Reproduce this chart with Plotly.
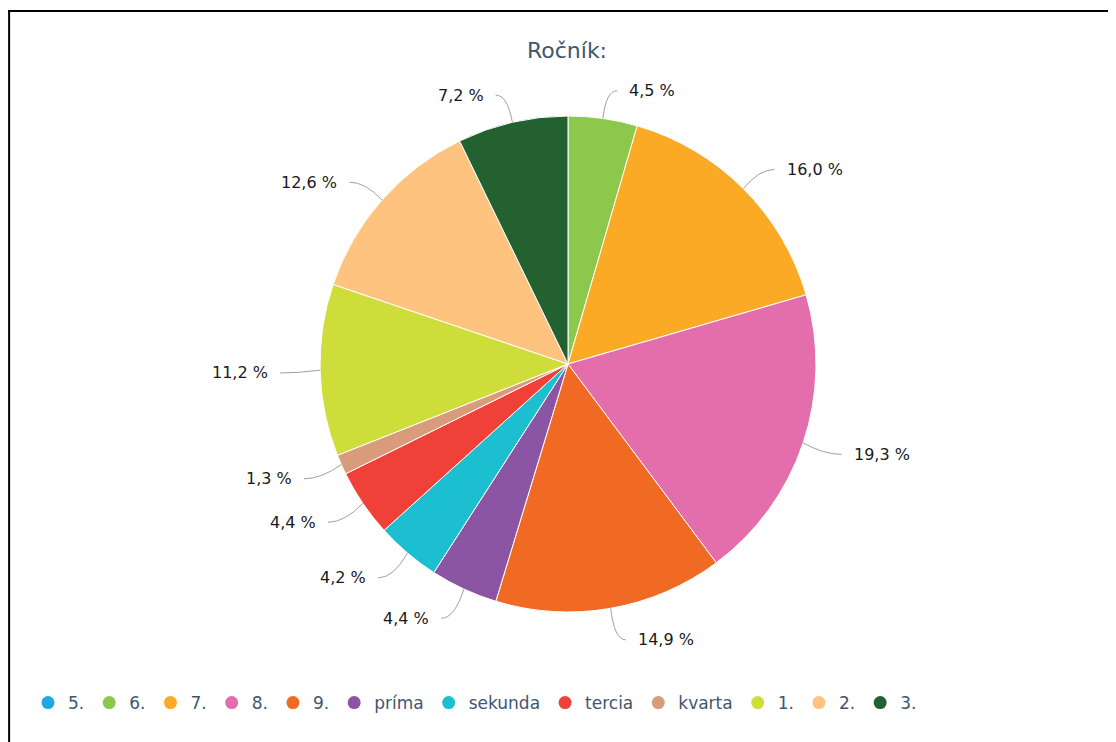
import math
import plotly.graph_objects as go

# --- data -------------------------------------------------------------
categories = ["5.", "6.", "7.", "8.", "9.", "príma", "sekunda", "tercia",
              "kvarta", "1.", "2.", "3."]
shares = [0.0, 4.5, 16.0, 19.3, 14.9, 4.4, 4.2, 4.4, 1.3, 11.2, 12.6, 7.2]
colors = ["#1fa9e1", "#8cc84b", "#fbaa26", "#e46eac", "#f06a24", "#8c55a3",
          "#1bbfd0", "#ef4138", "#d89b7b", "#cfdd3a", "#fec47f", "#236130"]
title = "Ročník:"

# --- geometry (page pixels; the html body adds an 8px margin) ----------
OFF = 8
W, H = 1116 - OFF, 742 - OFF
CX, CY, R = 568, 364, 248
DIST = 30          # label distance from pie edge

def px(x, y):
    return (x - OFF) / W, 1 - (y - OFF) / H

fig = go.Figure()
fig.add_trace(go.Pie(
    labels=categories, values=shares, sort=False, direction="clockwise",
    rotation=0, marker=dict(colors=colors, line=dict(color="white", width=1)),
    textinfo="none", hoverinfo="label+percent", showlegend=False,
    domain=dict(x=[px(CX - R, 0)[0], px(CX + R, 0)[0]],
                y=[px(0, CY + R)[1], px(0, CY - R)[1]]),
))

# legend entries with round markers
for cat, col in zip(categories, colors):
    fig.add_trace(go.Scatter(x=[None], y=[None], mode="markers", name=cat,
                             marker=dict(color=col, size=13, symbol="circle")))

# outside labels with curved connectors, placed from the slice angles
total = sum(shares)
annotations, shapes = [], []
cum = 0.0
for v in shares:
    if v <= 0:
        continue
    th = 2 * math.pi * (cum + v / 2) / total
    cum += v
    s, c = math.sin(th), -math.cos(th)
    ax, ay = CX + (R + DIST) * s, CY + (R + DIST) * c + 2
    side = 1 if s >= 0 else -1
    x0, y0 = CX + R * s, CY + R * c
    xc = CX + (R + 22) * s
    x2 = ax + side * 10
    p0, pc, p2 = px(x0, y0), px(xc, ay), px(x2, ay)
    shapes.append(dict(type="path", xref="paper", yref="paper",
                       path=f"M {p0[0]},{p0[1]} Q {pc[0]},{pc[1]} {p2[0]},{p2[1]}",
                       line=dict(color="#a0a0a0", width=1)))
    lx, ly = px(ax + side * 20, ay)
    annotations.append(dict(
        x=lx, y=ly, xref="paper", yref="paper", showarrow=False,
        text=f"{v:.1f}".replace(".", ",") + " %",
        xanchor="left" if side > 0 else "right", yanchor="middle",
        font=dict(size=16, color="#1a1a1a")))

# frame lines along top and left edge
top = px(0, 11)[1]
shapes.append(dict(type="line", xref="paper", yref="paper",
                   x0=0, x1=1, y0=top, y1=top,
                   line=dict(color="black", width=2)))
shapes.append(dict(type="line", xref="paper", yref="paper",
                   x0=0.001, x1=0.001, y0=0, y1=top,
                   line=dict(color="black", width=2)))

tx, ty = px(567, 50)
lgx, lgy = px(28, 703)
fig.update_layout(
    width=W, height=H,
    margin=dict(l=0, r=0, t=0, b=0),
    paper_bgcolor="white", plot_bgcolor="white",
    font=dict(family="DejaVu Sans, sans-serif"),
    title=dict(text=title, x=tx, xanchor="center", y=ty,
               yanchor="middle", xref="paper", yref="paper",
               font=dict(size=22, color="#3e576f")),
    xaxis=dict(visible=False), yaxis=dict(visible=False),
    legend=dict(orientation="h", x=lgx, xanchor="left",
                y=lgy, yanchor="middle",
                font=dict(size=17, color="#3e576f"),
                itemwidth=30, tracegroupgap=0),
    annotations=annotations, shapes=shapes,
    showlegend=True,
)

fig.write_html("out.html")
